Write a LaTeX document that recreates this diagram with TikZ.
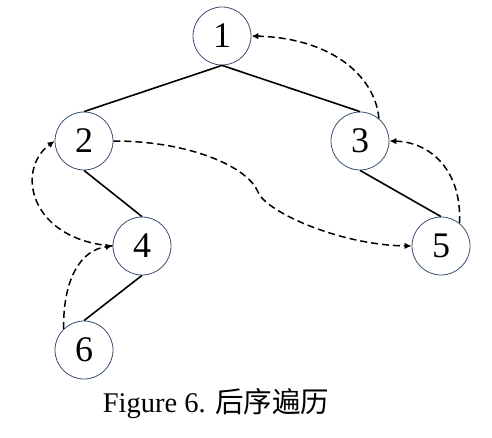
\documentclass[tikz,border=0pt]{standalone}
\usepackage{fontspec}
\setmainfont{Liberation Serif}
\newfontfamily\cjk{Noto Sans CJK SC}
\usetikzlibrary{arrows.meta}
\definecolor{circ}{HTML}{3A4F73}
\begin{document}
\begin{tikzpicture}[x=1pt,y=-1pt,
  vtx/.style={circle,draw=circ,line width=0.8pt,fill=white,minimum size=58pt,inner sep=0pt,font=\fontsize{36}{36}\selectfont},
  edge/.style={line width=1.6pt,black},
  trav/.style={line width=1.5pt,black,dash pattern=on 7pt off 4pt,-{Latex[length=7pt,width=6.5pt]}}]
\useasboundingbox (0,0) rectangle (492,438);
\node[vtx] (n1) at (222,36) {1};
\node[vtx] (n2) at (84,141) {2};
\node[vtx] (n3) at (360,141) {3};
\node[vtx] (n4) at (142,246) {4};
\node[vtx] (n5) at (441,246) {5};
\node[vtx] (n6) at (84,350) {6};
\draw[edge] (n1.south) -- (n2.north);
\draw[edge] (n1.south) -- (n3.north);
\draw[edge] (n2.south) -- (n4.north);
\draw[edge] (n3.south) -- (n5.north);
\draw[edge] (n4.south) -- (n6.north);
\draw[trav] (n6.134) .. controls (63,280) and (80,250) .. (n4.west);
\draw[trav] (n4.west) .. controls (30,240) and (15,170) .. (n2.west);
\draw[trav] (n2.east) .. controls (190,141) and (248,167) .. (258,192) .. controls (266,212) and (340,245) .. (n5.west);
\draw[trav] (n5.51) .. controls (462,170) and (430,142) .. (n3.east);
\draw[trav] (n3.50) .. controls (375,75) and (330,38) .. (n1.east);
\node[font=\fontsize{28.5}{30}\selectfont,inner sep=0pt] (cap) at (216,404) {Figure 6. {\cjk 后序遍历}};
\end{tikzpicture}
\end{document}
